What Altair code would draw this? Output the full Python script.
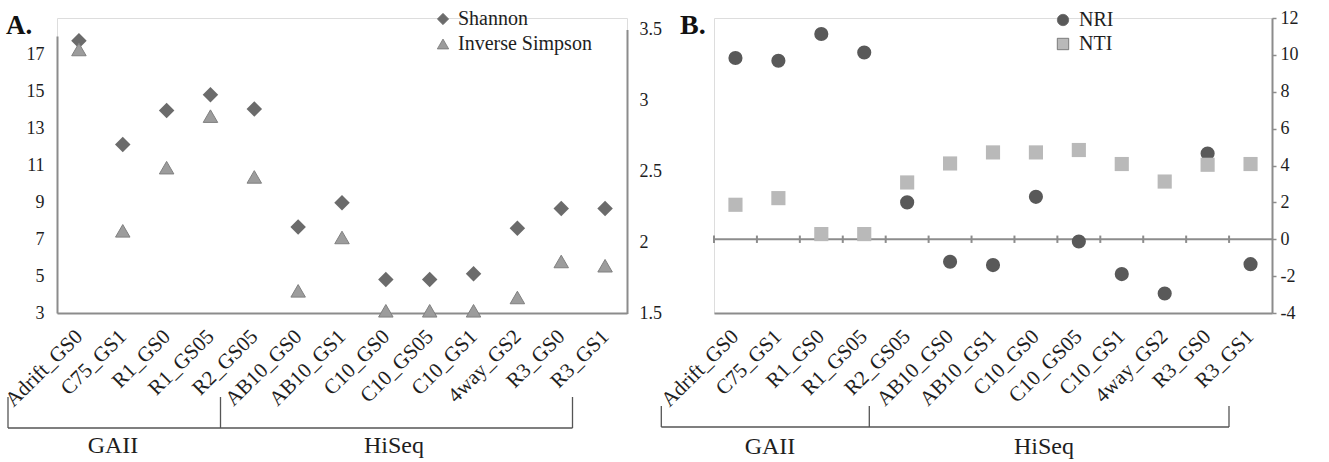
import altair as alt
import pandas as pd

# ---------------- data ----------------
categories = ["Adrift_GS0", "C75_GS1", "R1_GS0", "R1_GS05", "R2_GS05", "AB10_GS0",
              "AB10_GS1", "C10_GS0", "C10_GS05", "C10_GS1", "4way_GS2", "R3_GS0", "R3_GS1"]
shannon = [3.42, 2.69, 2.93, 3.04, 2.94, 2.11, 2.28, 1.74, 1.74, 1.78, 2.10, 2.24, 2.24]
inverse_simpson = [17.27, 7.45, 10.87, 13.66, 10.37, 4.20, 7.09, 3.12, 3.12, 3.12, 3.84, 5.79, 5.56]
nri = [9.83, 9.68, 11.13, 10.13, 2.00, -1.22, -1.40, 2.30, -0.12, -1.89, -2.94, 4.65, -1.35]
nti = [1.87, 2.23, 0.28, 0.28, 3.08, 4.11, 4.71, 4.71, 4.84, 4.08, 3.13, 4.04, 4.08]
left_ticks_a = [3, 5, 7, 9, 11, 13, 15, 17]
right_ticks_a = [1.5, 2, 2.5, 3, 3.5]
ticks_b = [-4, -2, 0, 2, 4, 6, 8, 10, 12]
groups = ["GAII", "HiSeq"]
series_a = ["Shannon", "Inverse Simpson"]
series_b = ["NRI", "NTI"]

df_sh = pd.DataFrame({"cat": categories, "value": shannon, "series": "Shannon"})
df_is = pd.DataFrame({"cat": categories, "value": inverse_simpson, "series": "Inverse Simpson"})
df_nri = pd.DataFrame({"cat": categories, "value": nri, "series": "NRI"})
df_nti = pd.DataFrame({"cat": categories, "value": nti, "series": "NTI"})
df_cat = pd.DataFrame({"cat": categories})

FONT = "Liberation Serif"
AXC = "#8c8c8c"
TXT = "#1e1e1e"

WA, HA = 570, 295
WB, HB = 558, 295


def xaxis(label_offset=0):
    return alt.Axis(labelAngle=-45, labelAlign="right", labelBaseline="middle",
                    ticks=False, tickSize=0, domain=True, domainColor=AXC, domainWidth=2,
                    labelFont=FONT, labelFontSize=21, labelColor=TXT, labelPadding=20,
                    labelOffset=label_offset, labelOverlap=False, title=None, grid=False)


def annotations(xs, ytop, ybot, gx, gy):
    out = []
    for x, yt in zip(xs, ytop):
        out.append(alt.Chart(df_cat.head(1)).mark_rule(color="#555555", strokeWidth=1.3).encode(
            x=alt.value(x), y=alt.value(yt), y2=alt.value(ybot)))
    out.append(alt.Chart(df_cat.head(1)).mark_rule(color="#555555", strokeWidth=1.3).encode(
        x=alt.value(xs[0]), x2=alt.value(xs[-1]), y=alt.value(ybot)))
    for g, x in zip(groups, gx):
        out.append(alt.Chart(df_cat.head(1)).mark_text(
            text=g, font=FONT, fontSize=24, color=TXT, align="center", baseline="alphabetic"
        ).encode(x=alt.value(x), y=alt.value(gy)))
    return out


# ---------------- panel A ----------------
xa = alt.X("cat:N", sort=categories, scale=alt.Scale(paddingInner=0, paddingOuter=0), axis=xaxis())

leg_a = alt.Legend(orient="none", legendX=376, legendY=-9, title=None, labelFont=FONT,
                   labelFontSize=20, labelColor=TXT, symbolSize=130, symbolStrokeColor="#777777",
                   symbolStrokeWidth=0.8, rowPadding=5, labelOffset=5, padding=0)
col_a = alt.Color("series:N", scale=alt.Scale(domain=series_a, range=["#6b6b6b", "#9c9c9c"]), legend=leg_a)
shp_a = alt.Shape("series:N", scale=alt.Scale(domain=series_a, range=["diamond", "triangle-up"]), legend=leg_a)

sh_layer = alt.Chart(df_sh).mark_point(filled=True, size=240, opacity=1).encode(
    x=xa,
    y=alt.Y("value:Q", scale=alt.Scale(domain=[1.5, 3.5], range=[295.5, 11.5]),
            axis=alt.Axis(orient="right", values=right_ticks_a, labelExpr="'' + datum.value",
                          ticks=False, tickSize=0, domainColor=AXC, domainWidth=2, grid=False,
                          labelOverlap=False,
                          labelFont=FONT, labelFontSize=18, labelColor=TXT, labelPadding=12, title=None)),
    color=col_a, shape=shp_a)

is_layer = alt.Chart(df_is).mark_point(filled=True, size=210, opacity=1, stroke="#808080",
                                        strokeWidth=1).encode(
    x=xa,
    y=alt.Y("value:Q", scale=alt.Scale(domain=[3, 18], range=[295, 18]),
            axis=alt.Axis(orient="left", values=left_ticks_a, ticks=False, tickSize=0,
                          domainColor=AXC, domainWidth=2, grid=False, labelOverlap=False,
                          labelFont=FONT, labelFontSize=18, labelColor=TXT, labelPadding=13, title=None)),
    color=col_a, shape=shp_a)

title_a = alt.Chart(df_cat.head(1)).mark_text(
    text="A.", font=FONT, fontSize=27, fontWeight="bold", color="#111111", align="left",
    baseline="alphabetic").encode(x=alt.value(-51), y=alt.value(16))

panel_a = alt.layer(
    sh_layer, is_layer, title_a,
    *annotations([-49, 163.5, 515.5], [379, 379, 379], 410, [56, 337], 435)
).resolve_scale(y="independent").properties(width=WA, height=HA)

# ---------------- panel B ----------------
xb = alt.X("cat:N", sort=categories, scale=alt.Scale(paddingInner=0, paddingOuter=0), axis=xaxis())
yscale_b = alt.Scale(domain=[-4, 12])
yaxis_b = alt.Axis(orient="right", values=ticks_b, labelExpr="'' + datum.value",
                   ticks=True, tickSize=4, tickWidth=1.5, tickColor=AXC, labelOverlap=False,
                   domainColor=AXC, domainWidth=2, grid=False, tickCount=9,
                   labelFont=FONT, labelFontSize=18, labelColor=TXT, labelPadding=4, title=None)

leg_b = alt.Legend(orient="none", legendX=339, legendY=-8, title=None, labelFont=FONT,
                   labelFontSize=20, labelColor=TXT, symbolSize=130, symbolStrokeColor="#666666",
                   symbolStrokeWidth=0.8, rowPadding=4, labelOffset=6, padding=0)
col_b = alt.Color("series:N", scale=alt.Scale(domain=series_b, range=["#595959", "#b9b9b9"]), legend=leg_b)
shp_b = alt.Shape("series:N", scale=alt.Scale(domain=series_b, range=["circle", "square"]), legend=leg_b)

zero_line = alt.Chart(df_cat.head(1)).mark_rule(color=AXC, strokeWidth=2).encode(
    y=alt.Y(datum=0, type="quantitative", scale=yscale_b, axis=yaxis_b))
zero_ticks = alt.Chart(df_cat).mark_rule(color=AXC, strokeWidth=2).encode(
    x=alt.X("cat:N", sort=categories, bandPosition=0, axis=xaxis()),
    y=alt.Y(datum=-0.2, type="quantitative", axis=yaxis_b), y2=alt.Y2(datum=0.2))

nri_layer = alt.Chart(df_nri).mark_point(filled=True, size=200, opacity=1).encode(
    x=xb, y=alt.Y("value:Q", scale=yscale_b, axis=yaxis_b), color=col_b, shape=shp_b)
nti_layer = alt.Chart(df_nti).mark_point(filled=True, size=200, opacity=1).encode(
    x=xb, y=alt.Y("value:Q", scale=yscale_b, axis=yaxis_b), color=col_b, shape=shp_b)

title_b = alt.Chart(df_cat.head(1)).mark_text(
    text="B.", font=FONT, fontSize=28, fontWeight="bold", color="#111111", align="left",
    baseline="alphabetic").encode(x=alt.value(-34), y=alt.value(16))

panel_b = alt.layer(
    zero_line, zero_ticks, nri_layer, nti_layer, title_b,
    *annotations([-52.7, 155.3, 515], [388, 388, 388], 409, [56, 330], 436)
).properties(width=WB, height=HB)

chart = alt.hconcat(panel_a, panel_b, spacing=87, bounds="flush").resolve_scale(
    color="independent", shape="independent", x="independent"
).properties(padding={"left": 0, "top": 8, "right": 0, "bottom": 0}).configure_view(
    stroke=None).configure_axis(labelOverlap=False).configure(background="white")

chart.save("out.html", embed_options={"renderer": "svg", "actions": False})
